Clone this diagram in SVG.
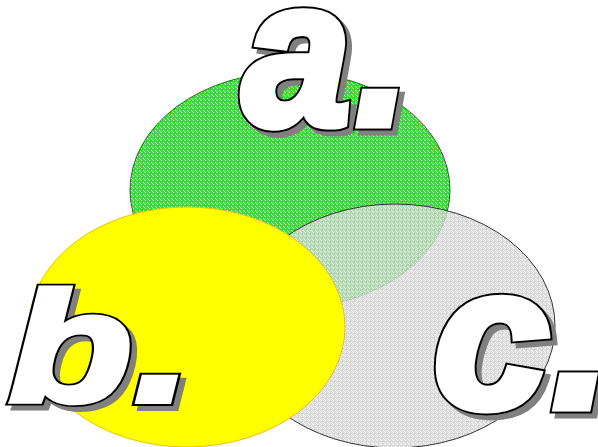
<svg xmlns="http://www.w3.org/2000/svg" width="598" height="447" viewBox="0 0 598 447">
<style>
.lbl{font-family:"Liberation Sans",Arial,sans-serif;font-weight:bold;font-style:italic}
.sh{fill:#808080;stroke:#808080;stroke-linejoin:miter}
.ol{fill:#000000;stroke:#000000;stroke-linejoin:miter}
.fg{fill:#ffffff;stroke:#ffffff;stroke-linejoin:miter}
text{vector-effect:non-scaling-stroke}
</style>
<defs>
<pattern id="pg" width="4" height="4" patternUnits="userSpaceOnUse">
<rect width="4" height="4" fill="#22ee22"/>
<rect x="1" y="0" width="1" height="1" fill="#ffffff"/>
<rect x="3" y="2" width="1" height="1" fill="#ffffff"/>
<rect x="0" y="3" width="1" height="1" fill="#aaffaa"/>
<rect x="2" y="1" width="1" height="1" fill="#00dd00"/>
</pattern>
<pattern id="pw" width="4" height="4" patternUnits="userSpaceOnUse">
<rect width="4" height="4" fill="#d6d6d6"/>
<rect x="1" y="0" width="1" height="1" fill="#ffffff"/>
<rect x="3" y="2" width="1" height="1" fill="#ffffff"/>
<rect x="0" y="3" width="1" height="1" fill="#eeeeee"/>
<rect x="2" y="1" width="1" height="1" fill="#bbbbbb"/>
</pattern>
</defs>
<g id="set-a"><ellipse cx="290" cy="190" rx="160" ry="118" fill="url(#pg)" stroke="#117711" stroke-width="1"/></g>
<g id="set-c"><ellipse cx="395" cy="326" rx="160" ry="122" fill="url(#pw)" fill-opacity="0.8" stroke="#333333" stroke-width="1"/></g>
<g id="set-b"><ellipse cx="187" cy="327" rx="158" ry="120" fill="#ffff00" stroke="#f0c000" stroke-width="1"/></g>
<g id="connectors"></g>
<g id="label-a" class="lbl" font-size="207" transform="translate(243,124) scale(0.93,1)">
<text class="sh" x="5.4" y="5" stroke-width="13">a<tspan dx="6">.</tspan></text>
<text class="ol" x="0" y="0" stroke-width="13">a<tspan dx="6">.</tspan></text>
<text class="fg" x="0" y="0" stroke-width="9">a<tspan dx="6">.</tspan></text>
</g>
<g id="label-b" class="lbl" font-size="155" transform="translate(9,401) scale(1.3,1)">
<text class="sh" x="4" y="5" stroke-width="10">b<tspan dx="2">.</tspan></text>
<text class="ol" x="0" y="0" stroke-width="10">b<tspan dx="2">.</tspan></text>
<text class="fg" x="0" y="0" stroke-width="6">b<tspan dx="2">.</tspan></text>
</g>
<g id="label-c" class="lbl" font-size="200" transform="translate(434,407) scale(1.03,1)">
<text class="sh" x="4.8" y="5" stroke-width="13">c<tspan dx="4">.</tspan></text>
<text class="ol" x="0" y="0" stroke-width="13">c<tspan dx="4">.</tspan></text>
<text class="fg" x="0" y="0" stroke-width="9">c<tspan dx="4">.</tspan></text>
</g>
</svg>
